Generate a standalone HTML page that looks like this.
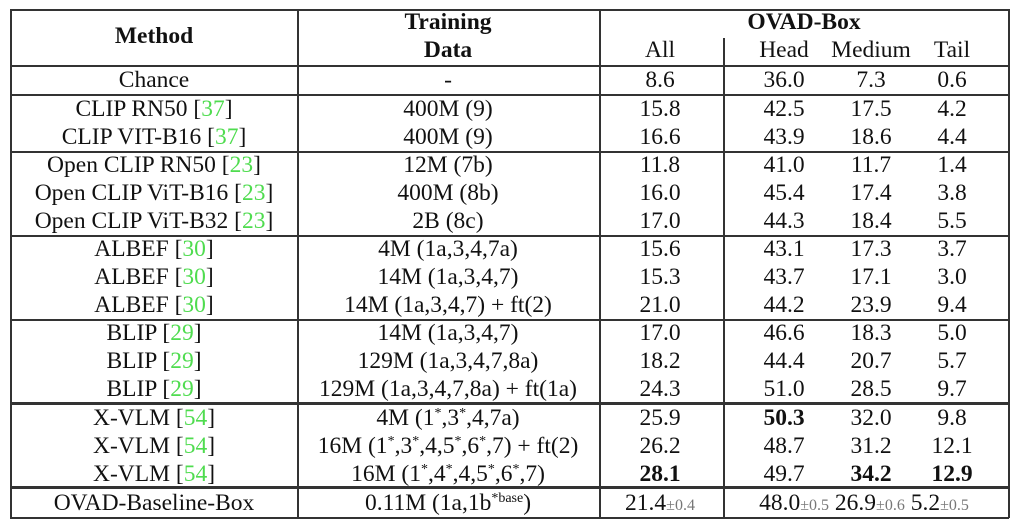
<!DOCTYPE html>
<html><head><meta charset="utf-8"><style>
body{margin:0;width:1024px;height:532px;background:#fff;position:relative;font-family:"Liberation Serif",serif;font-size:23.5px;color:#111;overflow:hidden}
.h{position:absolute;left:10px;width:999px;height:1.5px;background:#333}
.v{position:absolute;width:1.5px;background:#333}
.t{position:absolute;white-space:nowrap;transform:translateX(-50%);line-height:28px;height:28px}
.g{color:#4fdc4f}
b{font-weight:bold}
.s{color:#777;font-size:16px}
sup{font-size:14px;line-height:0;vertical-align:8px}
</style></head><body>
<div class="h" style="top:9px"></div>
<div class="h" style="top:65px"></div>
<div class="h" style="top:94px"></div>
<div class="h" style="top:151px"></div>
<div class="h" style="top:235px"></div>
<div class="h" style="top:319px"></div>
<div class="h" style="top:402px;height:2.5px"></div>
<div class="h" style="top:486px;height:2.5px"></div>
<div class="h" style="top:517px"></div>
<div class="v" style="left:10px;top:9px;height:509px"></div>
<div class="v" style="left:1008px;top:9px;height:509px"></div>
<div class="v" style="left:297px;top:9px;height:509px"></div>
<div class="v" style="left:599px;top:9px;height:509px"></div>
<div class="v" style="left:723px;top:38px;height:480px"></div>

<div class="t" style="left:154px;top:22px"><b>Method</b></div>
<div class="t" style="left:448px;top:8px"><b>Training</b></div>
<div class="t" style="left:448px;top:36px"><b>Data</b></div>
<div class="t" style="left:804px;top:8px"><b>OVAD-Box</b></div>
<div class="t" style="left:660px;top:36px">All</div>
<div class="t" style="left:784px;top:36px">Head</div>
<div class="t" style="left:871px;top:36px">Medium</div>
<div class="t" style="left:952px;top:36px">Tail</div>

<div id="rows"></div>
<script>
var R=[
[66,"Chance","-","8.6","36.0","7.3","0.6"],
[95,"CLIP RN50 [<span class=g>37</span>]","400M (9)","15.8","42.5","17.5","4.2"],
[123,"CLIP VIT-B16 [<span class=g>37</span>]","400M (9)","16.6","43.9","18.6","4.4"],
[151,"Open CLIP RN50 [<span class=g>23</span>]","12M (7b)","11.8","41.0","11.7","1.4"],
[179,"Open CLIP ViT-B16 [<span class=g>23</span>]","400M (8b)","16.0","45.4","17.4","3.8"],
[207,"Open CLIP ViT-B32 [<span class=g>23</span>]","2B (8c)","17.0","44.3","18.4","5.5"],
[235,"ALBEF [<span class=g>30</span>]","4M (1a,3,4,7a)","15.6","43.1","17.3","3.7"],
[263,"ALBEF [<span class=g>30</span>]","14M (1a,3,4,7)","15.3","43.7","17.1","3.0"],
[291,"ALBEF [<span class=g>30</span>]","14M (1a,3,4,7) + ft(2)","21.0","44.2","23.9","9.4"],
[319,"BLIP [<span class=g>29</span>]","14M (1a,3,4,7)","17.0","46.6","18.3","5.0"],
[347,"BLIP [<span class=g>29</span>]","129M (1a,3,4,7,8a)","18.2","44.4","20.7","5.7"],
[375,"BLIP [<span class=g>29</span>]","129M (1a,3,4,7,8a) + ft(1a)","24.3","51.0","28.5","9.7"],
[404,"X-VLM [<span class=g>54</span>]","4M (1<sup>*</sup>,3<sup>*</sup>,4,7a)","25.9","<b>50.3</b>","32.0","9.8"],
[432,"X-VLM [<span class=g>54</span>]","16M (1<sup>*</sup>,3<sup>*</sup>,4,5<sup>*</sup>,6<sup>*</sup>,7) + ft(2)","26.2","48.7","31.2","12.1"],
[460,"X-VLM [<span class=g>54</span>]","16M (1<sup>*</sup>,4<sup>*</sup>,4,5<sup>*</sup>,6<sup>*</sup>,7)","<b>28.1</b>","49.7","<b>34.2</b>","<b>12.9</b>"]
];
var X=[154,448,660,784,871,952],h="";
R.forEach(function(r){for(var i=1;i<7;i++)h+='<div class="t" style="left:'+X[i-1]+'px;top:'+r[0]+'px">'+r[i]+'</div>';});
document.getElementById("rows").innerHTML=h;
</script>
<div class="t" style="left:154px;top:489px">OVAD-Baseline-Box</div>
<div class="t" style="left:448px;top:489px">0.11M (1a,1b<sup>*base</sup>)</div>
<div class="t" style="left:660px;top:489px">21.4<span class="s">±0.4</span></div>
<div class="t" style="left:864px;top:489px">48.0<span class="s">±0.5</span> 26.9<span class="s">±0.6</span> 5.2<span class="s">±0.5</span></div>
</body></html>
